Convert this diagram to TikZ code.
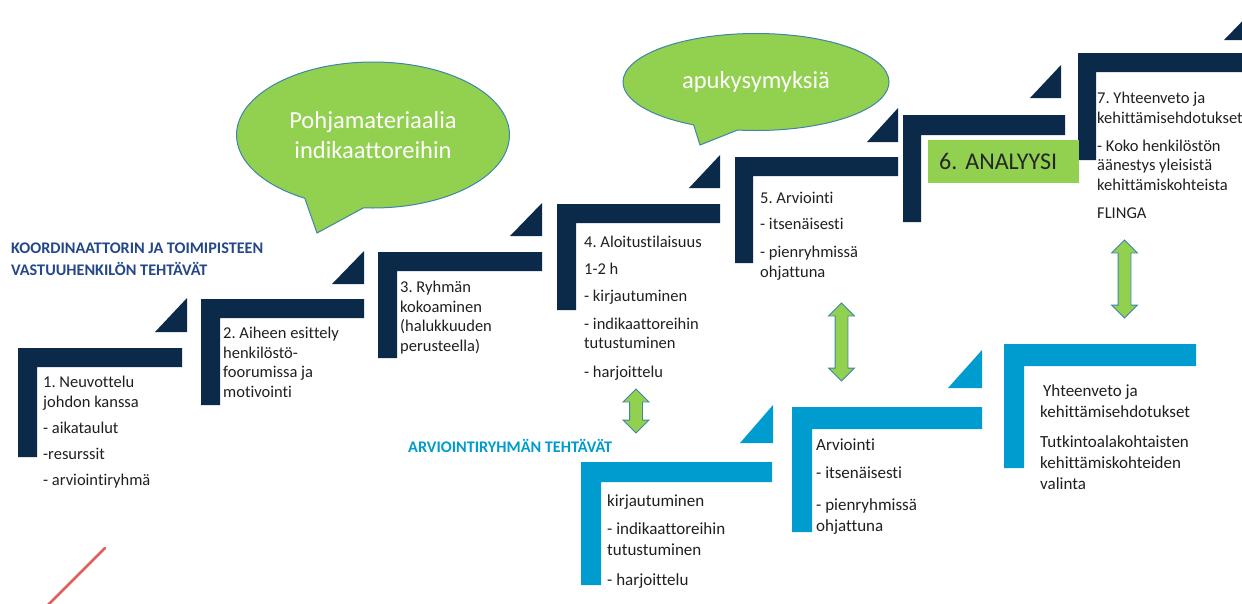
\documentclass[tikz,border=0pt]{standalone}
\usepackage{fontspec}
\setmainfont{Carlito}[Ligatures={NoCommon}]
\frenchspacing
\usetikzlibrary{shapes.callouts,shapes.arrows}
\definecolor{navy}{HTML}{0B2A4A}
\definecolor{cyanbar}{HTML}{009BCF}
\definecolor{leaf}{HTML}{92D050}
\definecolor{rim}{HTML}{3F85AA}
\definecolor{headblue}{HTML}{24478A}
\definecolor{slash}{HTML}{E0605A}

\begin{document}
\begin{tikzpicture}[x=1pt,y=-1pt,
    steptext/.style={anchor=north west, align=left, inner sep=0pt, text=black!88, font=\fontsize{16.5}{19.5}\selectfont},
    tasktext/.style={anchor=north west, align=left, inner sep=0pt, text=black!88, font=\fontsize{17}{21}\selectfont},
    headtext/.style={anchor=north west, align=left, inner sep=0pt, font=\bfseries\fontsize{16.2}{22}\selectfont},
    bubble/.style={ellipse callout, fill=leaf, draw=rim, line width=1pt, text=white, align=center, font=\fontsize{24.5}{30}\selectfont},
    twoway/.style={double arrow, rotate=90, fill=leaf, draw=rim, line width=0.8pt, inner sep=6pt, double arrow head extend=6.5pt}]
\useasboundingbox (0,0) rectangle (1242,603);
\begin{scope}[fill=navy]
    \fill (18,348) rectangle (182,367) (18,348) rectangle (37,457) (155,332) -- (187,332) -- (187,298) -- cycle;
    \fill (201,299) rectangle (364,318) (201,299) rectangle (220,405) (332,284) -- (364,284) -- (364,251) -- cycle;
    \fill (378,252) rectangle (542,271) (378,252) rectangle (397,358) (510,236) -- (542,236) -- (542,203) -- cycle;
    \fill (557,204) rectangle (720,223) (557,204) rectangle (576,310) (689,188) -- (720,188) -- (720,155) -- cycle;
    \fill (735,157) rectangle (898,176) (735,157) rectangle (753,263) (867,142) -- (898,142) -- (898,108) -- cycle;
    \fill (903,115) rectangle (1065,135) (903,115) rectangle (921,222) (1030,98) -- (1061,98) -- (1061,65) -- cycle;
    \fill (1078,53) rectangle (1250,72) (1078,53) rectangle (1096,160) (1224,40) -- (1256,40) -- (1256,7) -- cycle;
\end{scope}
\begin{scope}[fill=cyanbar]
    \fill (581,462) rectangle (772,482) (581,462) rectangle (601,585) (740,443) -- (773,443) -- (773,405) -- cycle;
    \fill (792,407) rectangle (982,429) (792,407) rectangle (812,532) (948,388) -- (982,388) -- (982,350) -- cycle;
    \fill (1004,344) rectangle (1196,366) (1004,344) rectangle (1024,468);
\end{scope}
\node[headtext, text=headblue] (head1) at (11,243) {KOORDINAATTORIN JA TOIMIPISTEEN\\VASTUUHENKILÖN TEHTÄVÄT};
\node[headtext, text=cyanbar] (head2) at (408,439) {ARVIOINTIRYHMÄN TEHTÄVÄT};
\node[steptext] (s1) at (43,376) {1. Neuvottelu\\johdon kanssa\\[7pt]- aikataulut\\[6pt]-resurssit\\[7pt]- arviointiryhmä};
\node[steptext] (s2) at (223,327) {2. Aiheen esittely\\henkilöstö-\\foorumissa ja\\motivointi};
\node[steptext] (s3) at (400,281) {3. Ryhmän\\kokoaminen\\(halukkuuden\\perusteella)};
\node[steptext] (s4) at (584,236) {4. Aloitustilaisuus\\[7pt]1-2 h\\[8pt]- kirjautuminen\\[8pt]- indikaattoreihin\\tutustuminen\\[9pt]- harjoittelu};
\node[steptext] (s5) at (760,192) {5. Arviointi\\[6pt]- itsenäisesti\\[9pt]- pienryhmissä\\ohjattuna};
\node[fill=leaf, anchor=north west, text width=129, inner xsep=11, minimum height=43, align=left, text=black!85, font=\fontsize{24}{28}\selectfont] (s6) at (928,140) {6. ANALYYSI};
\node[steptext] (s7) at (1097,92) {7. Yhteenveto ja\\kehittämisehdotukset\\[8.5pt]- Koko henkilöstön\\äänestys yleisistä\\kehittämiskohteista\\[8.5pt]FLINGA};
\node[tasktext] (r1) at (607,494) {kirjautuminen\\[7pt]- indikaattoreihin\\tutustuminen\\[9pt]- harjoittelu};
\node[tasktext] (r2) at (816,439) {Arviointi\\[7pt]- itsenäisesti\\[11pt]- pienryhmissä\\ohjattuna};
\node[tasktext] (r3) at (1040,384) {\hspace{3pt}Yhteenveto ja\\kehittämisehdotukset\\[9pt]Tutkintoalakohtaisten\\kehittämiskohteiden\\valinta};
\node[bubble, minimum width=273, minimum height=146, callout absolute pointer={(317,233)}, callout pointer arc=26] (bub1) at (373,135) {Pohjamateriaalia\\indikaattoreihin};
\node[bubble, minimum width=266, minimum height=97, callout absolute pointer={(700,145)}, callout pointer arc=20] (bub2) at (756,82) {apukysymyksiä};
\node[twoway, minimum height=44] (ar1) at (636,411) {};
\node[twoway, minimum height=78] (ar2) at (841.5,342) {};
\node[twoway, minimum height=78] (ar3) at (1124.5,279) {};
\draw[slash, line width=2.5pt, line cap=round] (105,548) -- (48,605);
\end{tikzpicture}
\end{document}
